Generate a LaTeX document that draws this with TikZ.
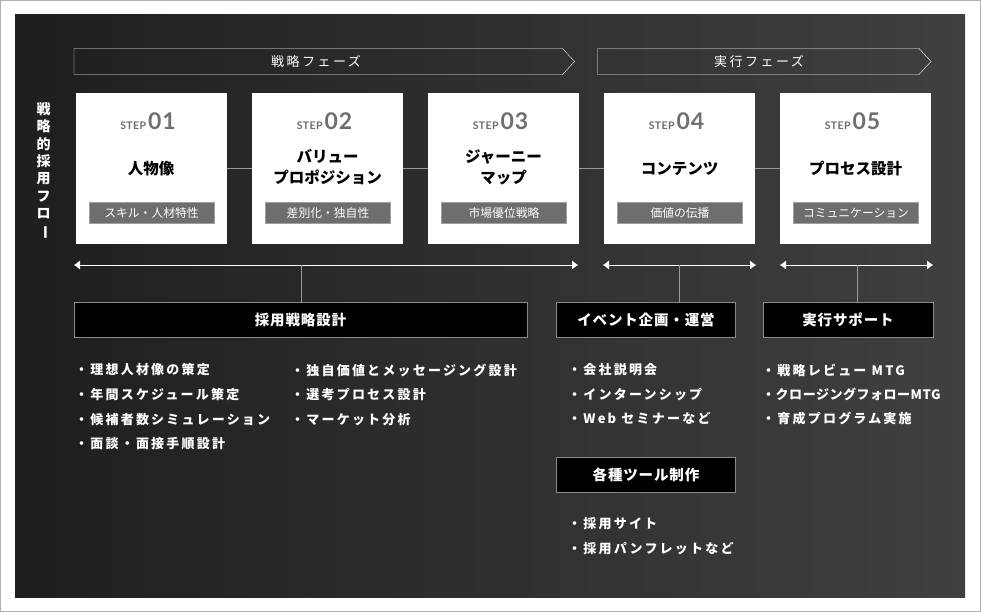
\documentclass[tikz,border=0pt]{standalone}
\usepackage{fontspec}
\setmainfont{Noto Sans CJK JP}
\newfontfamily\latofont{Lato}[LetterSpace=4]
\newfontfamily\jpwide{Noto Sans CJK JP}[LetterSpace=17]
\newfontfamily\jpphase{Noto Sans CJK JP}[LetterSpace=19]
\newfontfamily\jpmid{Noto Sans CJK JP}[LetterSpace=6]
\newfontfamily\jpnarrow{Noto Sans CJK JP}[LetterSpace=4]
\usetikzlibrary{arrows.meta}

\definecolor{panelL}{HTML}{1E1E1E}
\definecolor{panelR}{HTML}{404040}
\definecolor{stepGray}{HTML}{6F6F6F}
\definecolor{tagGray}{HTML}{6E6E6E}
\definecolor{lineGray}{HTML}{9A9A9A}
\definecolor{headGray}{HTML}{8A8A8A}
\definecolor{frameGray}{HTML}{B0B0B0}

\begin{document}
\begin{tikzpicture}[x=1pt, y=-1pt,
    stepbox/.style={fill=white, minimum width=151pt, minimum height=151pt, inner sep=0pt},
    steplabel/.style={text=stepGray, font=\latofont\bfseries, inner sep=0pt},
    steptitle/.style={font=\bfseries\fontsize{15.5}{21}\selectfont, align=center, inner sep=0pt},
    tagbox/.style={fill=tagGray, draw=gray!75, minimum width=125pt, minimum height=21pt, inner sep=0pt, text=white, font=\fontsize{11.8}{12}\selectfont},
    phaselabel/.style={text=white, font=\jpphase\fontsize{13}{13}\selectfont, inner sep=0pt},
    headbox/.style={fill=black, draw=headGray, minimum height=35pt, inner sep=0pt, text=white, font=\jpmid\bfseries\fontsize{14.5}{14.5}\selectfont},
    item/.style={anchor=west, inner sep=0pt, text=white, font=\jpwide\bfseries\fontsize{13}{13}\selectfont},
    span/.style={white, {Latex[length=6pt, width=9pt]}-{Latex[length=6pt, width=9pt]}},
    stem/.style={lineGray},
  ]
  \useasboundingbox (0,0) rectangle (981,612);
  \fill [white] (0,0) rectangle (981,612);
  \draw [frameGray] (0.5,0.5) rectangle (980.5,611.5);
  \shade [left color=panelL, right color=panelR] (15,15) rectangle (965,597);

  % phases
  \draw [white] (74,48.5) -- (562.5,48.5) -- (574.5,61.5) -- (562.5,74.5) -- (74,74.5) -- cycle;
  \node [phaselabel] (phase1) at (316,61.5) {戦略フェーズ};
  \draw [white] (597.5,48.5) -- (919,48.5) -- (931,61.5) -- (919,74.5) -- (597.5,74.5) -- cycle;
  \node [phaselabel] (phase2) at (759,61.5) {実行フェーズ};

  \node [text=white, align=center, inner sep=0pt, font=\bfseries\fontsize{14}{17.3}\selectfont] (flow) at (43.5,171) {戦\\略\\的\\採\\用\\フ\\ロ\\\rotatebox[origin=c]{-90}{ー}};

  % steps
  \node [stepbox] (s1) at (151,168.5) {};
  \node [stepbox] (s2) at (327.5,168.5) {};
  \node [stepbox] (s3) at (503.5,168.5) {};
  \node [stepbox] (s4) at (679.5,168.5) {};
  \node [stepbox] (s5) at (855.5,168.5) {};
  \draw [lineGray] (s1) -- (s2);
  \draw [lineGray] (s2) -- (s3);
  \draw [lineGray] (s3) -- (s4);
  \draw [lineGray] (s4) -- (s5);

  \node [steplabel] (n1) at (148,121) {{\fontsize{10.5}{10}\selectfont STEP}\hspace{2pt}{\fontsize{23}{23}\selectfont 01}};
  \node [steplabel] (n2) at (324.5,121) {{\fontsize{10.5}{10}\selectfont STEP}\hspace{2pt}{\fontsize{23}{23}\selectfont 02}};
  \node [steplabel] (n3) at (500.5,121) {{\fontsize{10.5}{10}\selectfont STEP}\hspace{2pt}{\fontsize{23}{23}\selectfont 03}};
  \node [steplabel] (n4) at (676.5,121) {{\fontsize{10.5}{10}\selectfont STEP}\hspace{2pt}{\fontsize{23}{23}\selectfont 04}};
  \node [steplabel] (n5) at (852.5,121) {{\fontsize{10.5}{10}\selectfont STEP}\hspace{2pt}{\fontsize{23}{23}\selectfont 05}};

  \node [steptitle] (h1) at (151,168.5) {人物像};
  \node [steptitle] (h2) at (327.5,167.5) {バリュー\\プロポジション};
  \node [steptitle] (h3) at (503.5,167.5) {ジャーニー\\マップ};
  \node [steptitle] (h4) at (679.5,168.5) {コンテンツ};
  \node [steptitle] (h5) at (855.5,168.5) {プロセス設計};

  \node [tagbox] (g1) at (151.5,213) {スキル・人材特性};
  \node [tagbox] (g2) at (328,213) {差別化・独自性};
  \node [tagbox] (g3) at (504,213) {市場優位戦略};
  \node [tagbox] (g4) at (680,213) {価値の伝播};
  \node [tagbox] (g5) at (856,213) {コミュニケーション};

  % ranges
  \coordinate (a1) at (74,265);
  \coordinate (b1) at (578,265);
  \coordinate (a2) at (603,265);
  \coordinate (b2) at (756,265);
  \coordinate (a3) at (780,265);
  \coordinate (b3) at (933,265);
  \draw [span] (a1) -- (b1);
  \draw [span] (a2) -- (b2);
  \draw [span] (a3) -- (b3);

  \node [headbox, minimum width=453pt] (plan) at (300.5,320) {採用戦略設計};
  \node [headbox, minimum width=179pt] (event) at (646,320) {イベント企画・運営};
  \node [headbox, minimum width=170pt] (support) at (848,320) {実行サポート};
  \node [headbox, minimum width=179pt] (tools) at (646,474.5) {各種ツール制作};

  \coordinate (t1) at (301,265);
  \coordinate (t2) at (679,265);
  \coordinate (t3) at (857.5,265);
  \draw [stem] (t1) -- (t1 |- plan.north);
  \draw [stem] (t2) -- (t2 |- event.north);
  \draw [stem] (t3) -- (t3 |- support.north);

  % lists
  \node [item] (pl1) at (75,370) {・理想人材像の策定};
  \node [item] (pl2) at (75,394.7) {・年間スケジュール策定};
  \node [item] (pl3) at (75,419.4) {・候補者数シミュレーション};
  \node [item] (pl4) at (75,444) {・面談・面接手順設計};
  \node [item] (pr1) at (291,370) {・独自価値とメッセージング設計};
  \node [item] (pr2) at (291,394.7) {・選考プロセス設計};
  \node [item] (pr3) at (291,419.4) {・マーケット分析};
  \node [item] (ev1) at (568,370) {・会社説明会};
  \node [item] (ev2) at (568,394.5) {・インターンシップ};
  \node [item] (ev3) at (568,418.8) {・Web セミナーなど};
  \node [item] (su1) at (762,370) {・戦略レビュー MTG};
  \node [item, font=\jpnarrow\bfseries\fontsize{13}{13}\selectfont] (su2) at (762,394.5) {・クロージングフォローMTG};
  \node [item] (su3) at (762,418.8) {・育成プログラム実施};
  \node [item] (tl1) at (568,524) {・採用サイト};
  \node [item] (tl2) at (568,548.5) {・採用パンフレットなど};
\end{tikzpicture}
\end{document}
